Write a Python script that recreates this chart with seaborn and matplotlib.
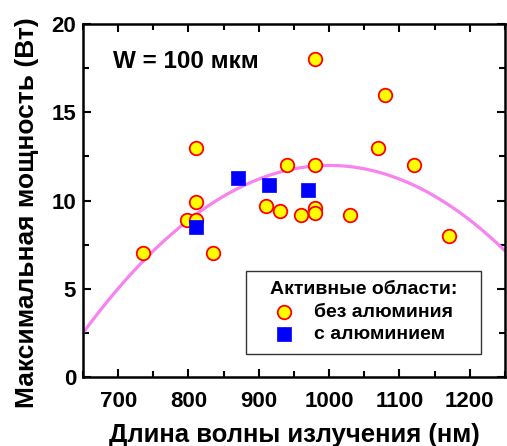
import matplotlib
matplotlib.use("Agg")
import matplotlib.pyplot as plt
import seaborn as sns
import numpy as np
from matplotlib.ticker import MultipleLocator

# Data: without aluminium (circles)
wl_no_al = [735, 798, 810, 810, 810, 835, 910, 930, 940, 960, 980, 980, 980, 980, 1030, 1070, 1080, 1120, 1170]
p_no_al = [7.0, 8.9, 8.9, 9.9, 13.0, 7.0, 9.7, 9.4, 12.0, 9.2, 18.0, 12.0, 9.6, 9.3, 9.2, 13.0, 16.0, 12.0, 8.0]

# Data: with aluminium (squares)
wl_al = [810, 870, 915, 970]
p_al = [8.5, 11.3, 10.9, 10.6]

# Fit curve
curve_wl = [650, 700, 750, 800, 850, 900, 950, 1000, 1050, 1100, 1150, 1200, 1250]
curve_p = [2.5, 5.0, 7.15, 8.9, 10.25, 11.2, 11.8, 12.0, 11.8, 11.2, 10.25, 8.9, 7.15]

sns.set_theme(style="ticks")
plt.rcParams['font.family'] = ['Liberation Sans', 'DejaVu Sans']
plt.rcParams['font.weight'] = 'bold'
plt.rcParams['text.color'] = 'black'
plt.rcParams['axes.labelcolor'] = 'black'
plt.rcParams['xtick.color'] = 'black'
plt.rcParams['ytick.color'] = 'black'

fig = plt.figure(figsize=(5.07, 4.46), dpi=100)
ax = fig.add_axes([0.1637, 0.1547, 0.8323, 0.7913])

sns.regplot(x=curve_wl, y=curve_p, order=2, ci=None, scatter=False, ax=ax,
            line_kws=dict(color='#F782F0', lw=2.3, zorder=1))

sns.scatterplot(x=wl_no_al, y=p_no_al, ax=ax, marker='o', s=95, color='#FFFF00',
                edgecolor='#FF0000', linewidth=1.3, zorder=3, label='без алюминия')
sns.scatterplot(x=wl_al, y=p_al, ax=ax, marker='s', s=110, color='#0000FF',
                edgecolor='#0000FF', linewidth=0.5, zorder=4, label='с алюминием')

ax.set_xlim(650, 1250)
ax.set_ylim(0, 20)
ax.xaxis.set_major_locator(MultipleLocator(100))
ax.xaxis.set_minor_locator(MultipleLocator(50))
ax.yaxis.set_major_locator(MultipleLocator(5))
ax.yaxis.set_minor_locator(MultipleLocator(2.5))
ax.tick_params(which='both', direction='in', top=True, right=True, width=1.5, colors='black',
               labelsize=16, pad=5)
ax.tick_params(axis='x', which='major', pad=10)
ax.tick_params(which='major', length=6)
ax.tick_params(which='minor', length=4)
for lab in ax.get_xticklabels() + ax.get_yticklabels():
    lab.set_fontweight('bold')
for sp in ax.spines.values():
    sp.set_linewidth(1.8)
    sp.set_color('black')

ax.set_xlabel('Длина волны излучения (нм)', fontsize=18.5, fontweight='bold', labelpad=8)
ax.set_ylabel('Максимальная мощность (Вт)', fontsize=19, fontweight='bold')
ax.yaxis.set_label_coords(-0.105, 0.467)

ax.text(0.07, 0.895, 'W = 100 мкм', transform=ax.transAxes, fontsize=17.5,
        fontweight='bold', va='center', ha='left')

leg = ax.legend(loc='lower left', bbox_to_anchor=(0.386, 0.065, 0.557, 0.24), mode='expand',
                title='Активные области:',
                fontsize=14, title_fontproperties={'weight': 'bold', 'size': 14},
                frameon=True, fancybox=False, edgecolor='#333333', framealpha=1,
                handlelength=2.8, handletextpad=0.15, borderpad=0.55, labelspacing=0.25,
                markerscale=1.0, borderaxespad=0)
leg.get_frame().set_linewidth(1.0)
for t in leg.get_texts():
    t.set_fontweight('bold')

fig.savefig('out.png', dpi=100)
